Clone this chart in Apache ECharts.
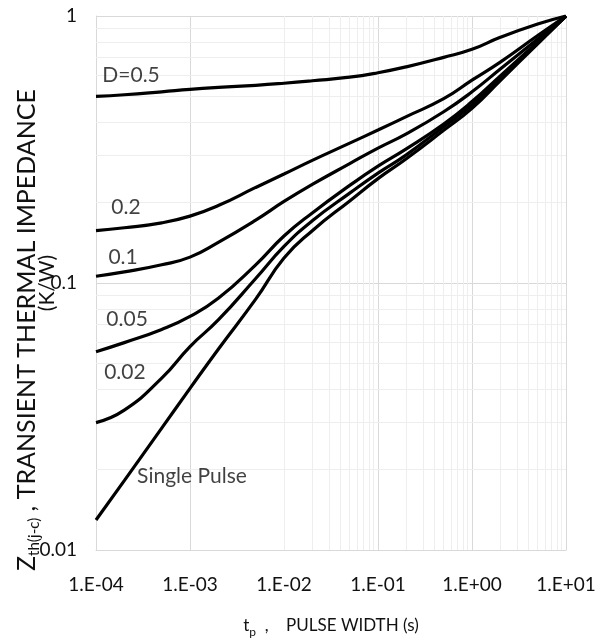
<!doctype html>
<html>
<head>
<meta charset='utf-8'>
<title>Transient thermal impedance</title>
<style>
html, body { margin: 0; padding: 0; background: #fff; }
#chart { width: 608px; height: 640px; }
</style>
</head>
<body>
<div id="chart"></div>
<script src="https://cdn.jsdelivr.net/npm/echarts@6/dist/echarts.min.js"></script>
<script>
// pulse width (s)
var tp = [1e-4, 2e-4, 5e-4, 1e-3, 2e-3, 5e-3, 1e-2, 2e-2, 5e-2, 1e-1, 2e-1, 5e-1, 1, 2, 5, 10];

// Zth(j-c) (K/W) per duty cycle
var d050 = [0.500, 0.507, 0.520, 0.531, 0.540, 0.550, 0.560, 0.572, 0.590, 0.613, 0.645, 0.700, 0.750, 0.832, 0.933, 1];
var d020 = [0.157, 0.161, 0.168, 0.178, 0.195, 0.228, 0.256, 0.288, 0.334, 0.374, 0.420, 0.490, 0.575, 0.672, 0.845, 1];
var d010 = [0.106, 0.110, 0.117, 0.125, 0.142, 0.172, 0.202, 0.234, 0.280, 0.320, 0.362, 0.438, 0.520, 0.633, 0.820, 1];
var d005 = [0.0553, 0.0598, 0.067, 0.075, 0.0877, 0.117, 0.150, 0.183, 0.232, 0.274, 0.318, 0.394, 0.478, 0.597, 0.800, 1];
var d002 = [0.030, 0.0334, 0.044, 0.0578, 0.0727, 0.104, 0.137, 0.171, 0.217, 0.258, 0.302, 0.385, 0.464, 0.585, 0.794, 1];
var single = [0.01295, 0.0182, 0.0286, 0.0403, 0.0565, 0.087, 0.124, 0.157, 0.203, 0.246, 0.292, 0.373, 0.451, 0.573, 0.787, 1];

var curves = [d050, d020, d010, d005, d002, single];

// curve labels and where they sit (tp, Zth)
var noteText = ['D=0.5', '0.2', '0.1', '0.05', '0.02', 'Single Pulse'];
var noteAt = [[2.36e-4, 0.60], [2.08e-4, 0.193], [1.94e-4, 0.125], [2.14e-4, 0.0733], [2.03e-4, 0.0464], [1.05e-3, 0.0189]];

var FONT = 'Lato';
var TXT = '#111';

// minor grid values k*10^n
var minorX = [], minorY = [];
for (var e = -4; e < 1; e++) for (var k = 2; k <= 9; k++) minorX.push(+(k * Math.pow(10, e)).toPrecision(2));
for (var e2 = -2; e2 < 0; e2++) for (var k2 = 2; k2 <= 9; k2++) minorY.push(+(k2 * Math.pow(10, e2)).toPrecision(2));

var pairs = function (ys) {
    return tp.map(function (t, i) { return [t, ys[i]]; });
};

var series = [{
    type: 'line',
    name: 'minor',
    data: [],
    z: 1,
    silent: true,
    markLine: {
        z: 1,
        silent: true,
        symbol: ['none', 'none'],
        label: { show: false },
        animation: false,
        lineStyle: { color: '#eeeeee', width: 1, type: 'solid' },
        emphasis: { disabled: true },
        data: minorX.map(function (v) { return { xAxis: v }; })
            .concat(minorY.map(function (v) { return { yAxis: v }; }))
    }
}];

curves.forEach(function (ys, i) {
    series.push({
        type: 'line',
        name: noteText[i],
        data: pairs(ys),
        showSymbol: false,
        smooth: 0.5,
        z: 3,
        lineStyle: { color: '#000', width: 3.2 },
        emphasis: { disabled: true }
    });
});

series.push({
    type: 'scatter',
    name: 'notes',
    z: 4,
    symbolSize: 1,
    itemStyle: { color: 'rgba(0,0,0,0)' },
    data: noteAt.map(function (p, i) { return { value: p, name: noteText[i] }; }),
    label: {
        show: true,
        position: 'inside',
        formatter: '{b}',
        color: TXT,
        fontFamily: FONT,
        fontSize: 21
    }
});

var expLabel = function (v) {
    var e = Math.round(Math.log10(v));
    return '1.E' + (e < 0 ? '-' : '+') + String(Math.abs(e)).padStart(2, '0');
};

var chart = echarts.init(document.getElementById('chart'));
chart.setOption({
    animation: false,
    backgroundColor: '#fff',
    textStyle: { fontFamily: FONT },
    grid: { left: 96, right: 42, top: 16, bottom: 90, outerBoundsMode: 'none', containLabel: false },
    xAxis: {
        type: 'log',
        logBase: 10,
        min: 1e-4,
        max: 10,
        axisLine: { show: true, lineStyle: { color: '#d9d9d9', width: 1 } },
        axisTick: { show: false },
        splitLine: { show: true, lineStyle: { color: '#d9d9d9', width: 1 } },
        axisLabel: { formatter: expLabel, color: TXT, fontSize: 19, fontFamily: FONT, margin: 25 },
        name: '{n|t}{s|p}{n|  ,    PULSE WIDTH (s)}',
        nameLocation: 'middle',
        nameGap: 64,
        nameTextStyle: {
            rich: {
                n: { fontSize: 17, fontFamily: FONT, color: TXT, lineHeight: 24, verticalAlign: 'middle' },
                s: { fontSize: 12, fontFamily: FONT, color: TXT, lineHeight: 12, verticalAlign: 'bottom' }
            }
        }
    },
    yAxis: {
        type: 'log',
        logBase: 10,
        min: 0.01,
        max: 1,
        axisLine: { show: true, lineStyle: { color: '#d9d9d9', width: 1 } },
        axisTick: { show: false },
        splitLine: { show: true, lineStyle: { color: '#d9d9d9', width: 1 } },
        axisLabel: {
            formatter: function (v) { return String(+v.toPrecision(1)); },
            color: TXT, fontSize: 19, fontFamily: FONT, margin: 19
        }
    },
    graphic: [{
        type: 'text',
        x: 27,
        y: 330,
        rotation: Math.PI / 2,
        silent: true,
        style: {
            text: '{z|Z}{s|th(j-c)}{n| , TRANSIENT THERMAL IMPEDANCE}',
            align: 'center',
            verticalAlign: 'middle',
            rich: {
                z: { fontSize: 25, fontFamily: FONT, fill: TXT, lineHeight: 30, verticalAlign: 'middle' },
                n: { fontSize: 25, fontFamily: FONT, fill: TXT, lineHeight: 30, verticalAlign: 'middle' },
                s: { fontSize: 15, fontFamily: FONT, fill: TXT, lineHeight: 15, verticalAlign: 'bottom' }
            }
        }
    }, {
        type: 'text',
        x: 47,
        y: 283,
        rotation: Math.PI / 2,
        silent: true,
        style: {
            text: '(K/W)',
            align: 'center',
            verticalAlign: 'middle',
            font: '21px Lato',
            fill: TXT
        }
    }],
    series: series
});
</script>
</body>
</html>
